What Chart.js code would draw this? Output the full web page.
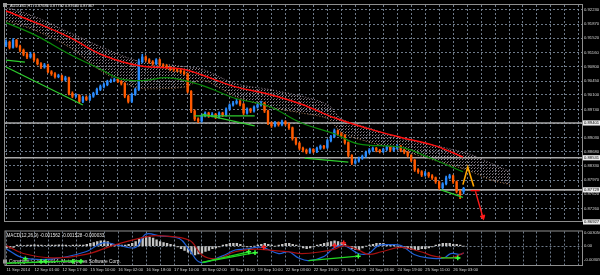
<!DOCTYPE html>
<html><head><meta charset="utf-8">
<script src="https://cdn.jsdelivr.net/npm/chart.js@4.4.1/dist/chart.umd.min.js"></script>
<style>
html,body{margin:0;padding:0;background:#000;overflow:hidden}
#wrap{position:relative;width:600px;height:275px;background:#000}
canvas{position:absolute;left:0}
</style></head>
<body><div id="wrap">
<canvas id="main" width="600" height="226" style="top:0"></canvas>
<canvas id="macd" width="600" height="49" style="top:226px"></canvas>
</div>
<script>
// ---------------- DATA ----------------
const symbolName = 'AUDUSD,H1';
const timeLabels = ['11 Sep 2014','12 Sep 01:00','12 Sep 17:00','15 Sep 10:00','16 Sep 02:00','16 Sep 18:00','17 Sep 10:00','18 Sep 02:00','18 Sep 18:00','19 Sep 10:00','22 Sep 03:00','22 Sep 19:00','23 Sep 11:00','24 Sep 03:00','24 Sep 19:00','25 Sep 11:00','26 Sep 03:00'];
const priceTickLabels = ['0.92230','0.91870','0.91520','0.91160','0.90800','0.90450','0.90100','0.89740','0.89390','0.89030','0.88680','0.88330','0.87970','0.87620','0.87260'];
const levelValues = [0.89401, 0.88531, 0.87729, 0.86927];

const barOpen = [.9135,.9142,.9129,.9147,.9132,.9122,.9112,.9105,.9112,.9098,
.9088,.9080,.9085,.9068,.9063,.9056,.9058,.9048,.9053,.9014,
.9007,.9009,.8994,.9004,.8999,.9007,.9014,.9024,.9031,.9036,
.9044,.9046,.9048,.9044,.9039,.9007,.8994,.9012,.9024,.9093,
.9105,.9098,.9093,.9088,.9098,.9085,.9083,.9078,.9075,.9073,
.9071,.9068,.9063,.9019,.8970,.8950,.8945,.8958,.8965,.8958,
.8962,.8955,.8965,.8960,.8975,.8985,.8990,.8994,.8987,.8965,
.8975,.8970,.8980,.8985,.8990,.8970,.8940,.8933,.8940,.8936,
.8943,.8938,.8928,.8901,.8889,.8877,.8872,.8867,.8874,.8869,
.8877,.8882,.8879,.8896,.8906,.8921,.8913,.8909,.8891,.8859,
.8840,.8845,.8852,.8857,.8867,.8872,.8877,.8872,.8869,.8874,
.8879,.8872,.8877,.8882,.8872,.8867,.8859,.8847,.8823,.8818,
.8810,.8815,.8808,.8803,.8793,.8778,.8788,.8803,.8808,.8793,
.8769,.87685];
const barHigh = [.9148,.9145,.9151,.9149,.9135,.9125,.9116,.9117,.9114,.9101,
.9091,.9089,.9087,.9071,.9066,.9062,.9060,.9057,.9055,.9018,
.9013,.9011,.9007,.9008,.9010,.9017,.9027,.9035,.9040,.9047,
.9050,.9052,.9051,.9046,.9041,.9010,.9015,.9027,.9100,.9112,
.9108,.9101,.9096,.9101,.9100,.9088,.9086,.9081,.9078,.9076,
.9074,.9071,.9065,.9021,.8973,.8953,.8961,.8968,.8967,.8966,
.8964,.8968,.8967,.8978,.8988,.8994,.8999,.8997,.8989,.8978,
.8977,.8983,.8989,.8995,.8992,.8972,.8943,.8944,.8943,.8947,
.8946,.8940,.8930,.8904,.8892,.8880,.8875,.8877,.8876,.8880,
.8885,.8884,.8899,.8909,.8925,.8923,.8916,.8911,.8893,.8861,
.8849,.8855,.8860,.8870,.8876,.8880,.8879,.8874,.8877,.8883,
.8881,.8880,.8886,.8884,.8875,.8869,.8861,.8849,.8826,.8821,
.8819,.8817,.8811,.8805,.8795,.8791,.8807,.8812,.8810,.8795,
.8772,.87792];
const barLow = [.9131,.9125,.9127,.9129,.9118,.9108,.9101,.9102,.9094,.9085,
.9076,.9077,.9065,.9059,.9052,.9053,.9045,.9045,.9010,.9003,
.9004,.8990,.8991,.8996,.8996,.9004,.9011,.9021,.9028,.9033,
.9041,.9043,.9041,.9035,.9003,.8990,.8991,.9009,.9021,.9090,
.9094,.9089,.9084,.9085,.9082,.9079,.9075,.9071,.9069,.9068,
.9064,.9060,.9015,.8966,.8946,.8941,.8942,.8955,.8954,.8955,
.8951,.8952,.8956,.8957,.8972,.8982,.8987,.8983,.8961,.8962,
.8966,.8967,.8977,.8982,.8966,.8936,.8929,.8930,.8932,.8933,
.8934,.8924,.8897,.8885,.8873,.8868,.8863,.8864,.8865,.8866,
.8874,.8875,.8876,.8893,.8903,.8909,.8905,.8887,.8855,.8836,
.8837,.8842,.8849,.8854,.8864,.8869,.8868,.8865,.8866,.8871,
.8868,.8869,.8874,.8868,.8863,.8855,.8843,.8819,.8814,.8806,
.8807,.8804,.8799,.8789,.8774,.8775,.8785,.8800,.8789,.8765,
.8751,.87630];
const barClose = [.9142,.9129,.9147,.9132,.9122,.9112,.9105,.9112,.9098,.9088,
.9080,.9085,.9068,.9063,.9056,.9058,.9048,.9053,.9014,.9007,
.9009,.8994,.9004,.8999,.9007,.9014,.9024,.9031,.9036,.9044,
.9046,.9048,.9044,.9039,.9007,.8994,.9012,.9024,.9093,.9105,
.9098,.9093,.9088,.9098,.9085,.9083,.9078,.9075,.9073,.9071,
.9068,.9063,.9019,.8970,.8950,.8945,.8958,.8965,.8958,.8962,
.8955,.8965,.8960,.8975,.8985,.8990,.8994,.8987,.8965,.8975,
.8970,.8980,.8985,.8990,.8970,.8940,.8933,.8940,.8936,.8943,
.8938,.8928,.8901,.8889,.8877,.8872,.8867,.8874,.8869,.8877,
.8882,.8879,.8896,.8906,.8921,.8913,.8909,.8891,.8859,.8840,
.8845,.8852,.8857,.8867,.8872,.8877,.8872,.8869,.8874,.8879,
.8872,.8877,.8882,.8872,.8867,.8859,.8847,.8823,.8818,.8810,
.8815,.8808,.8803,.8793,.8778,.8788,.8803,.8808,.8793,.8769,
.8760,.87767];

// Ichimoku cloud (bar index, prices)
const cloudX      = [0,8.5,18.2,27.6,37,44.7,51.8,56.1,65.5,75.2,84.6,92.3,96,104.5,113.1,122.5,132.2,138.7,144.4];
const cloudTop    = [.9230,.9205,.9166,.9129,.9097,.9088,.9080,.9075,.9039,.9024,.9007,.8985,.8950,.8926,.8901,.8884,.8864,.8840,.8818];
const cloudBottom = [.9196,.9171,.9129,.9068,.9029,.9026,.9031,.9048,.9007,.8980,.8965,.8950,.8916,.8891,.8872,.8847,.8822,.8798,.8786];
// moving averages
const redMaX = [0,8.5,18.2,27.6,38.2,50.4,56.1,65.5,75.2,84.6,94,103.7,113.1,122.5,130.8];
const redMaY = [.9220,.9191,.9154,.9110,.9083,.9075,.9060,.9031,.9012,.8987,.8953,.8926,.8904,.8884,.8855];
const greenMaX = [0,8.5,18.2,27.6,32.5,39,46.7,56.1,65.5,75.2,84.6,94,100.8,113.1,121.6,130.8];
const greenMaY = [.9191,.9159,.9112,.9072,.9051,.9046,.9053,.9034,.9002,.8982,.8940,.8913,.8888,.8879,.8852,.8818];
// trend lines [x1, price1, x2, price2]
const trendLines = [[0,.9097,5.4,.9092],[0,.9080,22,.8985],[56.1,.8962,71.2,.8933],[54,.8958,71.2,.8958],[85.5,.8852,98,.8842],[124.5,.8773,130.8,.8754]];
const zigzagX = [130.8,132.2,133.9];
const zigzagY = [.8786,.8830,.8781];
const arrowTop = [133,.8771,135.6,.8771];
const arrowShaft = [134.4,.8769,136.5,.8705];

// MACD window
const macdTitle = 'MACD(12,26,9) -0.001562 -0.001528 -0.000033';
const copyrightText = 'Copyright \u00A9 2005-2014, MetaQuotes Software Corp.';
const macdTickValues = [0.003056, 0, -0.003056];
const macdTickLabels = ['0.003056', '0.00', '-0.003056'];
const macdHist = [-0.0004,-0.0004,-0.0003,
0.0002,0.0002,0.0001,0.0002,0.0002,0.0003,0.0002,0.0002,0.0001,0.0002,0.0002,0.0002,0.0003,0.0002,0.0002,0.0001,0.0002,0.0002,0.0002,
0.0002,0.0004,0.0006,0.0008,0.001,0.0012,0.0012,0.001,0.0006,
0.0004,0.0004,0.0002,0.0002,0.0004,0.0006,
0.001,0.0016,0.002,0.0022,0.002,0.0018,0.0014,0.001,
0.0008,0.0006,0.0004,0.0002,
-0.0002,-0.0006,-0.001,-0.0014,-0.0018,-0.002,-0.0018,-0.0016,
-0.0012,-0.001,-0.0006,-0.0004,-0.0002,0.0002,0.0004,0.0006,0.0006,0.0006,0.0004,
0,-0.0002,-0.0002,0,
0.0002,0.0004,0.0006,0.0004,
0.0002,0,0.0002,
0.0004,0.0006,0.0006,0.0004,0.0002,0,
-0.0004,-0.0006,-0.0004,
-0.0002,0.0002,0.0004,0.0006,0.0008,0.001,0.0012,0.001,0.0008,0.0004,
-0.0002,-0.0006,-0.0008,-0.0008,-0.0004,
0,0.0002,0.0004,0.0006,0.0006,0.0006,0.0004,0.0004,0.0002,0,
-0.0002,-0.0004,-0.0006,-0.0008,-0.0008,-0.0008,-0.0006,-0.0006,-0.0004,-0.0002,
0.0002,0.0004,0.0006,0.0006,0.0006,0.0004,0.0004,0.0002,0];
const macdX = [0,4.8,13.3,22.7,27.6,32.5,37,39.9,43.8,49.5,52.4,55.6,61.7,65.5,68.4,73.1,78,80.8,83.7,86.5,91.1,94,96.8,100.8,103.7,106.5,109.4,113.1,116.8,120.7,125.3,127.3,130.1,131];
const macdMain = [-0.0007,-0.0027,-0.0029,-0.0013,0.0007,0.0001,-0.0003,0.0027,0.0023,0.0017,-0.0009,-0.0037,-0.0023,-0.0009,-0.0007,-0.0003,-0.0017,-0.0013,-0.0027,-0.0033,-0.0023,-0.0003,0.0001,-0.0017,-0.0017,0.0001,0.0003,0.0001,-0.0019,-0.0027,-0.0027,-0.0017,-0.0019,-0.00156];
const signalX = [0,4.8,13.3,22.7,30.4,39.9,44.7,52.4,56.1,60.3,65.5,71.2,75.2,80.8,84.6,90.1,94,96.8,100.8,103.7,107.4,113.1,118.7,122.5,127.3,130.1,131];
const macdSignal = [0.0001,-0.0017,-0.0027,-0.0019,0.0001,0.0021,0.0023,0.0013,-0.0021,-0.0029,-0.0013,-0.0007,-0.0009,-0.0013,-0.0017,-0.0013,-0.0007,0.0001,-0.0009,-0.0019,-0.0013,-0.0003,-0.0013,-0.0023,-0.0027,-0.0019,-0.00153];
const macdBuyX = [5.4,9.9,11.3,19,21.3,69.4,71.2,100.8,129.3];
const macdBuyY = [-0.0029,-0.0035,-0.0035,-0.0035,-0.0035,-0.0013,-0.0015,-0.0023,-0.0027];
const macdSellX = [73.7,94,96.6];
const macdSellY = [-0.0003,0.0001,0.0007];
const macdTrendLines = [[0,-0.0039,21.9,-0.0033],[56.1,-0.0037,69.4,-0.0013],[56.1,-0.0037,71.2,-0.0015],[86.5,-0.0033,100.8,-0.0023],[124.5,-0.0027,130.1,-0.0027]];

// ---------------- STYLE / LAYOUT ----------------
const X_MIN = -0.3, X_MAX = 164.9;
const Y_MIN = 0.8695, Y_MAX = 0.9235;
const M_MIN = -0.0043, M_MAX = 0.0033;
const GRID = 'rgba(128,142,160,0.85)';
const TICK = '#d4d4d4';
const BULL = '#2a8cff', BEAR = '#ff5a00';
const FONT = '"Liberation Sans", Arial, sans-serif';
Chart.defaults.font.family = FONT;

const gridTicks = [];
for (let v = 0; v <= X_MAX; v += 4) gridTicks.push(v);

const pts = (xs, ys) => xs.map((x, i) => ({x, y: ys[i]}));
const segDs = (s, color, width, order, dash) => ({type:'line', data:[{x:s[0],y:s[1]},{x:s[2],y:s[3]}], borderColor:color, borderWidth:width, borderDash:dash||[], pointRadius:0, fill:false, order});

const candleColors = barClose.map((c, i) => c >= barOpen[i] ? BULL : BEAR);

// dotted cloud pattern
const pc = document.createElement('canvas'); pc.width = 3; pc.height = 3;
const pcx = pc.getContext('2d'); pcx.fillStyle = '#8f858f'; pcx.fillRect(0, 0, 1, 1); pcx.fillStyle = '#5a525a'; pcx.fillRect(1, 2, 1, 1);
const mainCtx = document.getElementById('main').getContext('2d');
const cloudPattern = mainCtx.createPattern(pc, 'repeat');

const mainDecor = {
  id: 'mainDecor',
  afterDraw(chart) {
    const {ctx, chartArea: a, scales: {y}} = chart;
    ctx.save();
    ctx.strokeStyle = '#8e8e8e'; ctx.lineWidth = 1;
    ctx.strokeRect(a.left - 0.5, a.top - 0.5, a.right - a.left + 1, a.bottom - a.top + 1);
    ctx.font = '4.2px ' + FONT; ctx.textBaseline = 'middle'; ctx.textAlign = 'left';
    levelValues.forEach(v => {
      const py = y.getPixelForValue(v);
      ctx.fillStyle = '#ececec'; ctx.fillRect(a.right + 1, py - 2.6, 17, 5.2);
      ctx.fillStyle = '#000'; ctx.fillText(v.toFixed(5), a.right + 2, py);
    });
    const n = barClose.length - 1;
    ctx.fillStyle = '#9a9a9a'; ctx.fillRect(3, 3, 4, 4);
    ctx.fillStyle = '#e6e6e6'; ctx.font = '3.9px ' + FONT;
    ctx.fillText(symbolName + '  ' + barOpen[n].toFixed(5) + ' ' + barHigh[n].toFixed(5) + ' ' + barLow[n].toFixed(5) + ' ' + barClose[n].toFixed(5), 10, 5.5);
    ctx.restore();
  }
};

new Chart(mainCtx, {
  type: 'bar',
  data: { datasets: [
    {type:'line', data: pts(cloudX, cloudTop), borderColor:'rgba(200,180,200,0.7)', borderWidth:1, borderDash:[1,2], pointRadius:0, tension:0.3, fill:'+1', backgroundColor: cloudPattern, order:30},
    {type:'line', data: pts(cloudX, cloudBottom), borderColor:'rgba(214,150,96,0.8)', borderWidth:1, borderDash:[1,2], pointRadius:0, tension:0.3, fill:false, order:29},
    ...levelValues.map(v => segDs([X_MIN, v, X_MAX, v], '#a9a9a9', 1.6, 25)),
    {type:'bar', data: barLow.map((l, i) => ({x:i, y:[l, barHigh[i]]})), backgroundColor: candleColors, maxBarThickness:1, barPercentage:1, categoryPercentage:1, grouped:false, order:12},
    {type:'bar', data: barOpen.map((o, i) => ({x:i, y:[o, barClose[i]]})), backgroundColor: candleColors, maxBarThickness:1.7, barPercentage:1, categoryPercentage:1, grouped:false, minBarLength:1, order:11},
    {type:'line', data: pts(greenMaX, greenMaY), borderColor:'#0a8c0a', borderWidth:1.2, pointRadius:0, tension:0.4, fill:false, order:8},
    {type:'line', data: pts(redMaX, redMaY), borderColor:'#ff1010', borderWidth:1.5, pointRadius:0, tension:0.4, fill:false, order:7},
    ...trendLines.map(s => segDs(s, '#2ecc2e', 1.3, 5)),
    {type:'line', data: pts(zigzagX, zigzagY), borderColor:'#ffa500', borderWidth:1.6, pointRadius:0, fill:false, order:3},
    segDs(arrowTop, '#ff1a1a', 1.4, 2),
    segDs(arrowShaft, '#ff1a1a', 1.4, 2),
    {type:'line', data:[{x:arrowShaft[2], y:arrowShaft[3]}], showLine:false, pointStyle:'triangle', pointRadius:2.8, pointRotation:164, pointBackgroundColor:'#ff1a1a', pointBorderColor:'#ff1a1a', order:1}
  ]},
  options: {
    responsive:false, animation:false, devicePixelRatio:1,
    layout:{padding:{left:2, top:2, right:0, bottom:4}},
    plugins:{legend:{display:false}, tooltip:{enabled:false}},
    scales:{
      x:{type:'linear', min:X_MIN, max:X_MAX, offset:false, position:'bottom',
         grid:{offset:false, color:GRID, lineWidth:1, drawTicks:false},
         border:{display:false, dash:[2,2]},
         ticks:{display:false},
         afterBuildTicks: s => { s.ticks = gridTicks.map(v => ({value:v})); },
         afterFit: s => { s.height = 0; }},
      y:{type:'linear', position:'right', min:Y_MIN, max:Y_MAX, beginAtZero:false,
         grid:{color:GRID, lineWidth:1, drawTicks:true, tickLength:2, tickColor:'rgba(0,0,0,0)'},
         border:{display:false, dash:[2,2]},
         ticks:{padding:0, color:TICK, autoSkip:false, font:{size:4.2, lineHeight:0.5},
                callback: v => priceTickLabels[priceTickLabels.map(Number).indexOf(v)]},
         afterBuildTicks: s => { s.ticks = priceTickLabels.map(t => ({value:Number(t)})); },
         afterFit: s => { s.width = 18; }}
    }
  },
  plugins:[mainDecor]
});

const macdDecor = {
  id:'macdDecor',
  beforeDatasetsDraw(chart) {
    const {ctx, chartArea:a} = chart;
    ctx.save();
    ctx.fillStyle = '#9a9a9a'; ctx.fillRect(3, a.bottom - 5.5, 4, 4);
    ctx.fillStyle = '#e0e0e0'; ctx.font = '4.8px ' + FONT; ctx.textBaseline = 'middle'; ctx.textAlign = 'left';
    ctx.fillText(copyrightText, 9, a.bottom - 3.5);
    ctx.restore();
  },
  afterDraw(chart) {
    const {ctx, chartArea:a} = chart;
    ctx.save();
    ctx.strokeStyle = '#8e8e8e'; ctx.lineWidth = 1;
    ctx.strokeRect(a.left - 0.5, a.top - 0.5, a.right - a.left + 1, a.bottom - a.top + 1);
    ctx.fillStyle = '#e6e6e6'; ctx.font = '4.6px ' + FONT; ctx.textBaseline = 'middle'; ctx.textAlign = 'left';
    ctx.fillText(macdTitle, a.left + 1, a.top + 4.5);
    ctx.restore();
  }
};

new Chart(document.getElementById('macd'), {
  type:'bar',
  data:{datasets:[
    {type:'bar', data: macdHist.map((v, i) => ({x:i, y:v})), backgroundColor:'#c4c4c4', maxBarThickness:1.7, barPercentage:1, categoryPercentage:1, grouped:false, order:10},
    {type:'line', data: pts(macdX, macdMain), borderColor:'#2060d8', borderWidth:1.2, pointRadius:0, tension:0.4, fill:false, order:6},
    {type:'line', data: pts(signalX, macdSignal), borderColor:'#a81010', borderWidth:1.2, pointRadius:0, tension:0.4, fill:false, order:5},
    ...macdTrendLines.map(s => segDs(s, '#22d822', 1.3, 4)),
    {type:'line', data: pts(macdBuyX, macdBuyY), showLine:false, pointStyle:'cross', pointRadius:2.4, pointBorderWidth:1.5, pointBorderColor:'#3cff3c', order:1},
    {type:'line', data: pts(macdSellX, macdSellY), showLine:false, pointStyle:'cross', pointRadius:2.4, pointBorderWidth:1.5, pointBorderColor:'#ff2020', order:1}
  ]},
  options:{
    responsive:false, animation:false, devicePixelRatio:1,
    layout:{padding:{left:2, top:1, right:0, bottom:0}},
    plugins:{legend:{display:false}, tooltip:{enabled:false}},
    scales:{
      x:{type:'linear', min:X_MIN, max:X_MAX, offset:false, position:'bottom',
         grid:{offset:false, color:GRID, lineWidth:1, drawTicks:false},
         border:{display:false, dash:[2,2]},
         ticks:{display:true, autoSkip:false, maxRotation:0, minRotation:0, align:'start', padding:2, color:TICK,
                font:{size:4.2},
                callback: v => { const k = v / 8; return (Number.isInteger(k) && k < timeLabels.length) ? timeLabels[k] : ''; }},
         afterBuildTicks: s => { s.ticks = gridTicks.map(v => ({value:v})); },
         afterFit: s => { s.height = 10; }},
      y:{type:'linear', position:'right', min:M_MIN, max:M_MAX, beginAtZero:false,
         grid:{color: c => (c.tick && c.tick.value === 0) ? GRID : 'rgba(0,0,0,0)', lineWidth:1, drawTicks:true, tickLength:2, tickColor:'rgba(0,0,0,0)'},
         border:{display:false, dash:[2,2]},
         ticks:{padding:0, color:TICK, autoSkip:false, font:{size:4.2, lineHeight:0.5},
                callback: v => macdTickLabels[macdTickValues.indexOf(v)]},
         afterBuildTicks: s => { s.ticks = macdTickValues.map(v => ({value:v})); },
         afterFit: s => { s.width = 18; }}
    }
  },
  plugins:[macdDecor]
});
</script>
</body></html>
